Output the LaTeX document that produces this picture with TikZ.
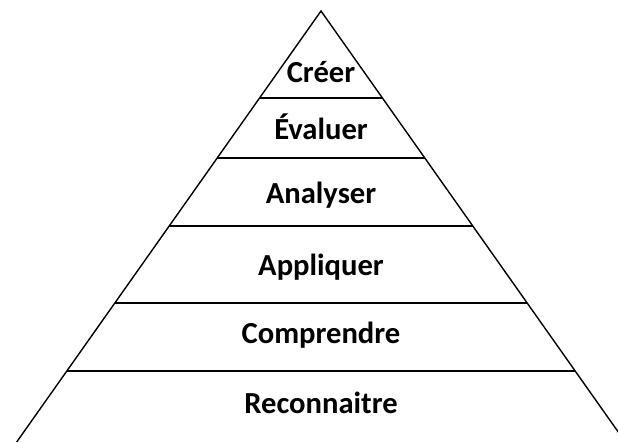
\documentclass[tikz,border=0pt]{standalone}
\usepackage{fontspec}
\setmainfont{Carlito}
\usetikzlibrary{calc}

\begin{document}
\begin{tikzpicture}[x=1pt,y=-1pt,
		edge/.style={line width=1.4pt},
		tier/.style={line width=1.9pt},
		level/.style={inner sep=0pt, anchor=base, font=\fontsize{30.6}{36}\selectfont\bfseries}]
	\useasboundingbox (0,0) rectangle (618,442);
	% sides of the pyramid
	\coordinate (apex) at (321,11);
	\coordinate (baseL) at ($(apex)+(-304.3,431)$);
	\coordinate (baseR) at ($(apex)+(304.3,431)$);
	\draw [edge] (baseL) -- (apex) -- (baseR);
	% separating lines
	\foreach \y [count=\i] in {98,158,226,303,371} {
		\pgfmathsetmacro\hw{0.706*(\y-11)}
		\coordinate (sepL\i) at (321-\hw,\y);
		\coordinate (sepR\i) at (321+\hw,\y);
		\draw [tier] (sepL\i) -- (sepR\i);
	}
	% levels
	\node (creer) [level] at (321,82) {Créer};
	\node (evaluer) [level] at (321,139) {Évaluer};
	\node (analyser) [level] at (321,203) {Analyser};
	\node (appliquer) [level] at (321,275) {Appliquer};
	\node (comprendre) [level] at (321,343) {Comprendre};
	\node (reconnaitre) [level] at (321,413) {Reconnaitre};
\end{tikzpicture}
\end{document}
